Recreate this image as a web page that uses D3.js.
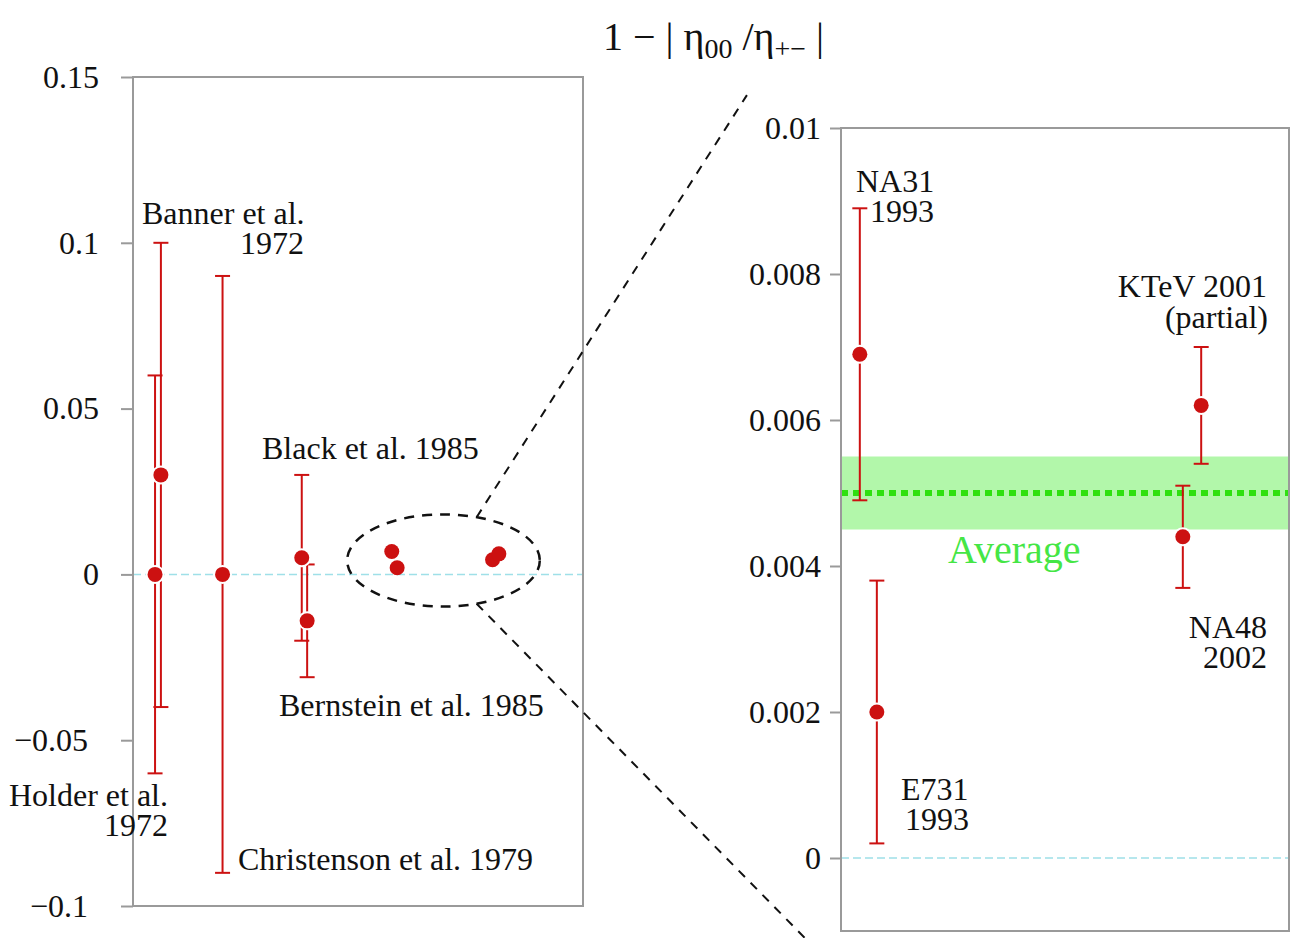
<!DOCTYPE html>
<html lang="en">
<head>
    <meta charset="UTF-8">
    <title>1 - |eta00/eta+-|</title>
    <script src="https://d3js.org/d3.v7.min.js"></script>
    <style>
        body { margin: 0; background: #fff; }
        svg { display: block; font-family: "Liberation Serif", "DejaVu Serif", serif; }
        .tick line { stroke: #9a9a9a; stroke-width: 2; }
        .tick text { font-size: 32px; fill: #111; font-family: "Liberation Serif", serif; }
        .lbl { font-size: 32px; fill: #111; }
    </style>
</head>
<body>
<div id="chart"></div>
<script>
    // 早期实验（左图）
    const oldNames = ["Holder", "Banner", "Christenson", "Black", "Bernstein"];
    const oldPos = [4.9, 6.2, 19.9, 37.5, 38.7];
    const oldVal = [0, 0.03, 0, 0.005, -0.014];
    const oldErr = [0.06, 0.07, 0.09, 0.025, 0.017];

    // 近期实验（右图 + 左图椭圆内）
    const newNames = ["NA31", "E731", "NA48", "KTeV"];
    const newVal = [0.0069, 0.002, 0.0044, 0.0062];
    const newErr = [0.002, 0.0018, 0.0007, 0.0008];
    const newPosLeft = [57.5, 58.7, 79.9, 81.3];
    const newPosRight = [4.2, 8.0, 76.3, 80.4];

    const avgVal = 0.005;
    const avgErr = 0.0005;

    const leftTicks = [0.15, 0.1, 0.05, 0, -0.05, -0.1];
    const rightTicks = [0.01, 0.008, 0.006, 0.004, 0.002, 0];

    const W = 1291, H = 938;
    const red = "#cc1111";
    const fmt = d => d < 0 ? "\u2212" + String(-d) : String(d);

    const svg = d3.select("#chart").append("svg")
        .attr("width", W).attr("height", H);

    // 标题
    const title = svg.append("text")
        .attr("x", 603).attr("y", 50)
        .style("font-size", "40px").attr("fill", "#111");
    title.append("tspan").text("1 \u2212 | \u03b7");
    title.append("tspan").text("00").style("font-size", "28px").attr("dy", 8);
    title.append("tspan").text(" /\u03b7").attr("dy", -8);
    title.append("tspan").text("+\u2212").style("font-size", "28px").attr("dy", 8);
    title.append("tspan").text(" |").attr("dy", -8);

    // ---------- 左图 ----------
    const L = { x: 133, y: 77, w: 450, h: 829 };
    const xL = d3.scaleLinear().domain([0, 100]).range([0, L.w]);
    const yL = d3.scaleLinear().domain([-0.1, 0.15]).range([L.h, 0]);
    const gL = svg.append("g").attr("transform", `translate(${L.x},${L.y})`);

    // ---------- 右图 ----------
    const R = { x: 841, y: 128, w: 448, h: 803 };
    const xR = d3.scaleLinear().domain([0, 100]).range([0, R.w]);
    const yR = d3.scaleLinear().domain([-0.001, 0.01]).range([R.h, 0]);
    const gR = svg.append("g").attr("transform", `translate(${R.x},${R.y})`);

    // 平均值带
    gR.append("rect")
        .attr("x", 0).attr("width", R.w)
        .attr("y", yR(avgVal + avgErr))
        .attr("height", yR(avgVal - avgErr) - yR(avgVal + avgErr))
        .attr("fill", "#b2f7aa");
    gR.append("line")
        .attr("x1", 0).attr("x2", R.w)
        .attr("y1", yR(avgVal)).attr("y2", yR(avgVal))
        .attr("stroke", "#2fe010").attr("stroke-width", 6)
        .attr("stroke-dasharray", "7 5");
    gR.append("text")
        .attr("x", 107).attr("y", yR(avgVal) + 70)
        .style("font-size", "40px").attr("fill", "#45e645")
        .text("Average");

    // 零线
    [[gL, L, yL], [gR, R, yR]].forEach(([g, P, y]) => {
        g.append("line")
            .attr("x1", 0).attr("x2", P.w)
            .attr("y1", y(0)).attr("y2", y(0))
            .attr("stroke", "#9fe0e8").attr("stroke-width", 1.5)
            .attr("stroke-dasharray", "8 4");
    });

    // 坐标轴与边框
    function frame(g, P, y, ticks, size, pad) {
        g.append("g")
            .call(d3.axisLeft(y).tickValues(ticks).tickFormat(fmt)
                .tickSize(size).tickPadding(pad))
            .attr("font-family", null).attr("font-size", null)
            .call(a => a.select(".domain").remove())
            .call(a => a.selectAll(".tick text")
                .attr("dx", d => d < 0 ? -11 : 0));
        g.append("rect")
            .attr("width", P.w).attr("height", P.h)
            .attr("fill", "none").attr("stroke", "#9a9a9a").attr("stroke-width", 2);
    }
    frame(gL, L, yL, leftTicks, 12, 22);
    frame(gR, R, yR, rightTicks, 11, 9);

    // 误差棒
    function errBars(g, xs, vs, es, x, y, cap) {
        xs.forEach((p, i) => {
            const cx = x(p);
            g.append("line")
                .attr("x1", cx).attr("x2", cx)
                .attr("y1", y(vs[i] + es[i])).attr("y2", y(vs[i] - es[i]))
                .attr("stroke", red).attr("stroke-width", 2);
            [vs[i] + es[i], vs[i] - es[i]].forEach(v => {
                g.append("line")
                    .attr("x1", cx - cap).attr("x2", cx + cap)
                    .attr("y1", y(v)).attr("y2", y(v))
                    .attr("stroke", red).attr("stroke-width", 2);
            });
        });
    }
    function dots(g, xs, vs, x, y, halo) {
        xs.forEach((p, i) => {
            g.append("circle")
                .attr("cx", x(p)).attr("cy", y(vs[i])).attr("r", 7.5)
                .attr("fill", red)
                .attr("stroke", halo ? "#fff" : "none").attr("stroke-width", 4)
                .attr("paint-order", "stroke");
        });
    }

    errBars(gL, oldPos, oldVal, oldErr, xL, yL, 7.5);
    dots(gL, oldPos, oldVal, xL, yL, true);
    dots(gL, newPosLeft, newVal, xL, yL, false);

    errBars(gR, newPosRight, newVal, newErr, xR, yR, 7.5);
    dots(gR, newPosRight, newVal, xR, yR, true);

    // 放大椭圆和连接线
    const ell = { cx: 69.0, cy: 0.0042, rx: 21.4, ry: 0.0139 };
    const ecx = L.x + xL(ell.cx), ecy = L.y + yL(ell.cy);
    const erx = xL(ell.rx) - xL(0), ery = yL(0) - yL(ell.ry);
    svg.append("ellipse")
        .attr("cx", ecx).attr("cy", ecy).attr("rx", erx).attr("ry", ery)
        .attr("fill", "none").attr("stroke", "#111").attr("stroke-width", 2.5)
        .attr("stroke-dasharray", "10 8");
    const t = Math.acos(0.344);
    const ends = [[-21, 0.01045, -1], [-8.0, -0.0011, 1]];
    ends.forEach(([ex, ey, s]) => {
        svg.append("line")
            .attr("x1", ecx + erx * Math.cos(t)).attr("y1", ecy + s * ery * Math.sin(t))
            .attr("x2", R.x + xR(ex)).attr("y2", R.y + yR(ey))
            .attr("stroke", "#111").attr("stroke-width", 2)
            .attr("stroke-dasharray", "9 8");
    });

    // 标注文字
    const labels = [
        [142, 224, "start", "Banner et al."],
        [304, 254, "end", "1972"],
        [168, 806, "end", "Holder et al."],
        [168, 836, "end", "1972"],
        [238, 870, "start", "Christenson et al. 1979"],
        [262, 459, "start", "Black et al. 1985"],
        [279, 716, "start", "Bernstein et al. 1985"],
        [856, 192, "start", "NA31"],
        [870, 222, "start", "1993"],
        [1267, 297, "end", "KTeV 2001"],
        [1268, 328, "end", "(partial)"],
        [1267, 638, "end", "NA48"],
        [1267, 668, "end", "2002"],
        [901, 800, "start", "E731"],
        [905, 830, "start", "1993"]
    ];
    svg.selectAll("text.lbl").data(labels).join("text")
        .attr("class", "lbl")
        .attr("x", d => d[0]).attr("y", d => d[1])
        .attr("text-anchor", d => d[2])
        .text(d => d[3]);
</script>
</body>
</html>
